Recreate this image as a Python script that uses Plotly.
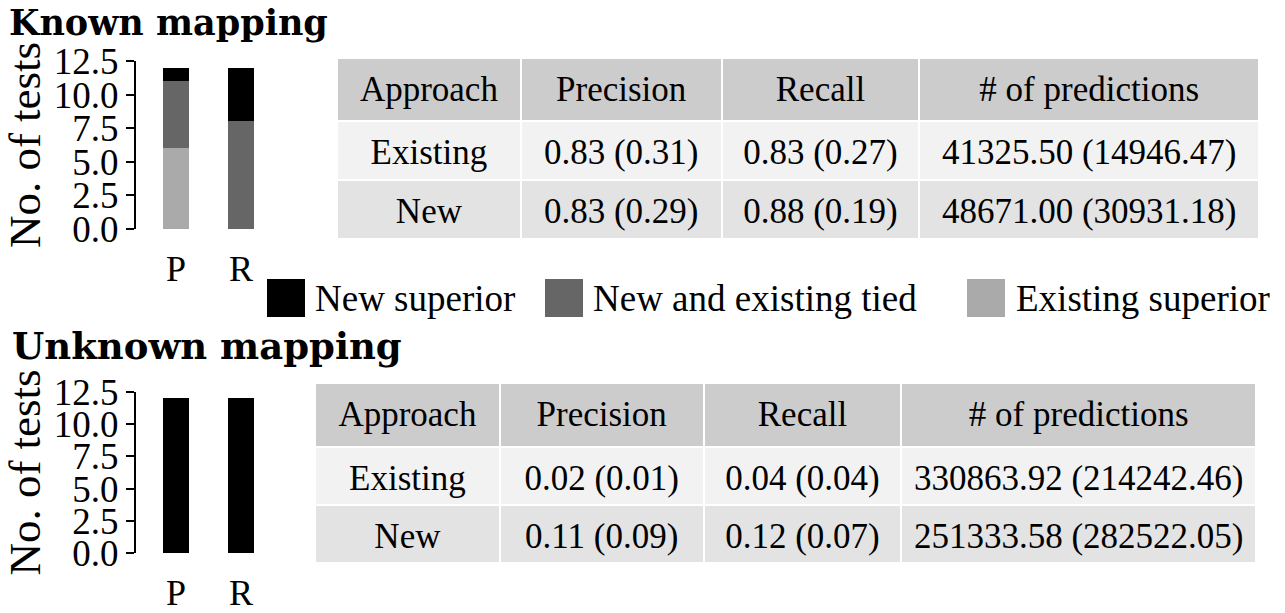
import plotly.graph_objects as go

W, H = 1285, 613
FONT = "Liberation Serif"
TITLE_FONT = "DejaVu Serif"

# ---------------- data ----------------
metrics = ["P", "R"]
outcomes = ["Existing superior", "New and existing tied", "New superior"]
known_existing_sup = [6, 0]
known_tied = [5, 8]
known_new_sup = [1, 4]
unknown_existing_sup = [0, 0]
unknown_tied = [0, 0]
unknown_new_sup = [12, 12]
y_ticks = [0, 2.5, 5, 7.5, 10, 12.5]

table_header = ["Approach", "Precision", "Recall", "# of predictions"]
approaches = ["Existing", "New"]
known_precision = ["0.83 (0.31)", "0.83 (0.29)"]
known_recall = ["0.83 (0.27)", "0.88 (0.19)"]
known_predictions = ["41325.50 (14946.47)", "48671.00 (30931.18)"]
unknown_precision = ["0.02 (0.01)", "0.11 (0.09)"]
unknown_recall = ["0.04 (0.04)", "0.12 (0.07)"]
unknown_predictions = ["330863.92 (214242.46)", "251333.58 (282522.05)"]

colors = {"Existing superior": "#aaaaaa", "New and existing tied": "#666666", "New superior": "#000000"}


def px(x):
    return x / W


def py(y):
    return 1 - y / H


fig = go.Figure()

known = {"Existing superior": known_existing_sup, "New and existing tied": known_tied, "New superior": known_new_sup}
unknown = {"Existing superior": unknown_existing_sup, "New and existing tied": unknown_tied, "New superior": unknown_new_sup}

for name in outcomes:
    fig.add_trace(go.Bar(x=metrics, y=known[name], name=name, marker=dict(color=colors[name], line=dict(width=0)),
                         width=0.4, xaxis="x", yaxis="y", showlegend=False))
for name in outcomes:
    fig.add_trace(go.Bar(x=metrics, y=unknown[name], name=name, marker=dict(color=colors[name], line=dict(width=0)),
                         width=0.4, xaxis="x2", yaxis="y2", showlegend=False))

header_fill = "#cccccc"
row_fills = ["#f2f2f2", "#e3e3e3"]
TEXT_SHIFT = 9  # plotly puts cell text near the top; the reference centres it


def add_table(cols, x0, x1, y0, y1, widths, hh, ch):
    # cell fills
    fig.add_trace(go.Table(
        domain=dict(x=[px(x0), px(x1)], y=[py(y1), py(y0)]),
        columnwidth=widths,
        header=dict(values=[""] * len(table_header), fill=dict(color=header_fill),
                    line=dict(color="white", width=2), height=hh),
        cells=dict(values=[[""] * len(c) for c in cols], fill=dict(color=[row_fills] * len(cols)),
                   line=dict(color="white", width=2), height=ch),
    ))
    # cell texts, vertically centred
    fig.add_trace(go.Table(
        domain=dict(x=[px(x0), px(x1)], y=[py(y1 + TEXT_SHIFT), py(y0 + TEXT_SHIFT)]),
        columnwidth=widths,
        header=dict(values=table_header, fill=dict(color="rgba(0,0,0,0)"), line=dict(color="rgba(0,0,0,0)", width=0),
                    font=dict(family=FONT, size=35, color="black"), align="center", height=hh),
        cells=dict(values=cols, fill=dict(color="rgba(0,0,0,0)"), line=dict(color="rgba(0,0,0,0)", width=0),
                   font=dict(family=FONT, size=35, color="black"), align="center", height=ch),
    ))


add_table([approaches, known_precision, known_recall, known_predictions], 337, 1260, 58, 240,
          [184, 201, 198, 340], 63, 59)
add_table([approaches, unknown_precision, unknown_recall, unknown_predictions], 315, 1257, 383, 565,
          [185, 204, 198, 355], 64, 58)


# bar axes: category 0 at 176px, 1 at 241px -> 65px/unit
def xaxis_cfg(anchor):
    return dict(domain=[px(136), px(273.5)], range=[-0.615, 1.5], showline=False, ticks="",
                showgrid=False, zeroline=False, tickfont=dict(family=FONT, size=36, color="black"),
                ticklabelstandoff=15, automargin=False, anchor=anchor)


def yaxis_cfg(d0, d1, anchor):
    return dict(domain=[py(d1), py(d0)], range=[0, 12.5], tickvals=y_ticks, tickformat=".1f",
                ticks="outside", ticklen=8, tickwidth=2, tickcolor="black", showline=True, linecolor="black",
                linewidth=2, showgrid=False, zeroline=False, anchor=anchor, automargin=False,
                tickfont=dict(family=FONT, size=37, color="black"),
                title=dict(text="No. of tests", font=dict(family=FONT, size=45, color="black"), standoff=21))


fig.update_layout(
    width=W, height=H, margin=dict(l=0, r=0, t=0, b=0, autoexpand=False), paper_bgcolor="white",
    plot_bgcolor="white", barmode="stack", showlegend=False, bargap=0,
    xaxis=xaxis_cfg("y"),
    yaxis=yaxis_cfg(61, 229, "x"),
    xaxis2=xaxis_cfg("y2"),
    yaxis2=yaxis_cfg(392, 553, "x2"),
)

annotations = [
    dict(text="<b>Known mapping</b>", x=px(7), y=py(0), xref="paper", yref="paper", xanchor="left",
         yanchor="top", showarrow=False, font=dict(family=TITLE_FONT, size=35, color="black")),
    dict(text="<b>Unknown mapping</b>", x=px(10), y=py(346), xref="paper", yref="paper", xanchor="left",
         yanchor="middle", showarrow=False, font=dict(family=TITLE_FONT, size=37, color="black")),
]
shapes = []
legend_items = [("New superior", 267, 313), ("New and existing tied", 545, 591), ("Existing superior", 967, 1014)]
for name, sx, tx in legend_items:
    shapes.append(dict(type="rect", xref="paper", yref="paper", x0=px(sx), x1=px(sx + 38), y0=py(317), y1=py(279),
                       fillcolor=colors[name], line=dict(width=0)))
    annotations.append(dict(text=name, x=px(tx), y=py(299), xref="paper", yref="paper", xanchor="left",
                            yanchor="middle", showarrow=False, font=dict(family=FONT, size=37, color="black")))

fig.update_layout(annotations=annotations, shapes=shapes)
fig.write_html("out.html", config={"displayModeBar": False},
               post_script="document.body.style.margin='0px';")
